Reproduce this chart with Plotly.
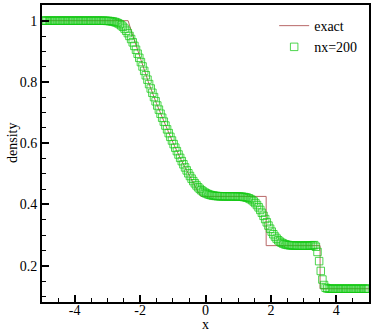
import plotly.graph_objects as go

# Exact solution (Sod problem, t = 2): key points of the piecewise profile
exact_x = [-5.0, -2.3664, -2.25, -2.0, -1.75, -1.5, -1.25, -1.0, -0.75, -0.5, -0.25, -0.1406,
           1.8549, 1.8549, 3.5043, 3.5043, 5.0]
exact_rho = [1.0, 1.0, 0.9597, 0.8775, 0.8010, 0.7299, 0.6640, 0.6030, 0.5465, 0.4943, 0.4461, 0.4263,
             0.4263, 0.2656, 0.2656, 0.125, 0.125]

# Numerical solution, nx = 200 cells on [-5, 5]; first cell centre and spacing
num_x0 = -4.975
num_dx = 0.05
num_rho = [
    1.0, 1.0, 1.0, 1.0, 1.0, 1.0, 1.0, 1.0, 1.0, 1.0,
    1.0, 1.0, 1.0, 1.0, 1.0, 1.0, 1.0, 1.0, 1.0, 1.0,
    1.0, 1.0, 1.0, 1.0, 1.0, 1.0, 1.0, 1.0, 1.0, 1.0,
    1.0, 1.0, 1.0, 1.0, 1.0, 1.0, 1.0, 0.9998, 0.9997, 0.9995,
    0.9992, 0.9987, 0.9980, 0.9971, 0.9958, 0.9940, 0.9917, 0.9886, 0.9847, 0.9801,
    0.9742, 0.9673, 0.9594, 0.9502, 0.9402, 0.9293, 0.9177, 0.9052, 0.8922, 0.8787,
    0.8648, 0.8506, 0.8362, 0.8218, 0.8074, 0.7930, 0.7787, 0.7646, 0.7506, 0.7368,
    0.7231, 0.7096, 0.6963, 0.6833, 0.6704, 0.6577, 0.6452, 0.6329, 0.6208, 0.6088,
    0.5971, 0.5855, 0.5741, 0.5631, 0.5522, 0.5415, 0.5311, 0.5210, 0.5113, 0.5018,
    0.4929, 0.4843, 0.4763, 0.4690, 0.4622, 0.4562, 0.4509, 0.4462, 0.4423, 0.4389,
    0.4360, 0.4337, 0.4318, 0.4303, 0.4292, 0.4283, 0.4277, 0.4272, 0.4269, 0.4267,
    0.4266, 0.4265, 0.4264, 0.4264, 0.4263, 0.4263, 0.4263, 0.4262, 0.4262, 0.4261,
    0.4259, 0.4256, 0.4251, 0.4244, 0.4235, 0.4220, 0.4201, 0.4175, 0.4141, 0.4098,
    0.4045, 0.3981, 0.3907, 0.3822, 0.3729, 0.3629, 0.3524, 0.3417, 0.3311, 0.3210,
    0.3114, 0.3028, 0.2952, 0.2886, 0.2831, 0.2786, 0.2750, 0.2723, 0.2702, 0.2687,
    0.2676, 0.2669, 0.2664, 0.2661, 0.2659, 0.2658, 0.2657, 0.2656, 0.2656, 0.2656,
    0.2656, 0.2656, 0.2657, 0.2658, 0.2661, 0.2666, 0.2672, 0.2620, 0.2450, 0.2150,
    0.1830, 0.1550, 0.1370, 0.1280, 0.1257, 0.1252, 0.125, 0.125, 0.125, 0.125,
    0.125, 0.125, 0.125, 0.125, 0.125, 0.125, 0.125, 0.125, 0.125, 0.125,
    0.125, 0.125, 0.125, 0.125, 0.125, 0.125, 0.125, 0.125, 0.125, 0.125,
]

x_tickvals = [-4, -2, 0, 2, 4]
x_ticktext = ["-4", "-2", "0", "2", "4"]
y_tickvals = [0.2, 0.4, 0.6, 0.8, 1.0]
y_ticktext = ["0.2", "0.4", "0.6", "0.8", "1"]
x_title = "x"
y_title = "density"

FONT = "Liberation Serif"

fig = go.Figure()
fig.add_trace(go.Scatter(
    x=exact_x, y=exact_rho, mode="lines", name="exact",
    line=dict(color="#b86868", width=1),
))
fig.add_trace(go.Scatter(
    x0=num_x0, dx=num_dx, y=num_rho, mode="markers", name="nx=200",
    marker=dict(symbol="square-open", size=7.5, color="rgba(20,200,20,0.75)",
                line=dict(width=1, color="rgba(20,200,20,0.75)")),
))

axis_common = dict(
    showline=True, linecolor="black", linewidth=2, mirror=True,
    ticks="inside", ticklen=7, tickwidth=1.5, tickcolor="black",
    showgrid=False, zeroline=False, automargin=False,
    tickfont=dict(family=FONT, size=14, color="black"),
)

fig.update_xaxes(
    range=[-5, 5], tickmode="array", tickvals=x_tickvals, ticktext=x_ticktext,
    ticklabelposition="outside", ticklabelstandoff=-6,
    minor=dict(dtick=0.5, tick0=0, ticks="inside", ticklen=4, tickwidth=1, tickcolor="black", showgrid=False),
    **axis_common,
)
fig.update_yaxes(
    range=[0.0816, 1.0512], tickmode="array", tickvals=y_tickvals, ticktext=y_ticktext,
    minor=dict(dtick=0.05, tick0=0, ticks="inside", ticklen=4, tickwidth=1, tickcolor="black", showgrid=False),
    **axis_common,
)

fig.add_annotation(text=x_title, xref="paper", yref="paper", x=0.5, y=-0.076,
                   xanchor="center", yanchor="middle", showarrow=False,
                   font=dict(family=FONT, size=14, color="black"))
fig.add_annotation(text=y_title, xref="paper", yref="paper", x=-0.092, y=0.535,
                   xanchor="center", yanchor="middle", showarrow=False, textangle=-90,
                   font=dict(family=FONT, size=14, color="black"))

fig.update_layout(
    width=377, height=333,
    margin=dict(l=42, r=8, t=5, b=31),
    paper_bgcolor="white", plot_bgcolor="white",
    font=dict(family=FONT, size=14, color="black"),
    showlegend=True,
    legend=dict(x=0.71, y=0.983, xanchor="left", yanchor="top",
                bgcolor="rgba(0,0,0,0)", font=dict(family=FONT, size=14, color="black"),
                tracegroupgap=0),
)

fig.write_html("out.html", config={"displayModeBar": False},
               post_script="document.body.style.margin='0';")
